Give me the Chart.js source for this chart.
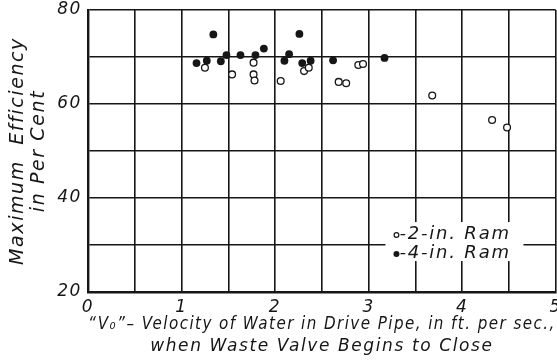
<!DOCTYPE html>
<html>
<head>
<meta charset="utf-8">
<title>Hydraulic ram efficiency</title>
<script src="https://cdn.jsdelivr.net/npm/chart.js@4.4.1/dist/chart.umd.min.js"></script>
<style>
  html, body { margin: 0; padding: 0; background: #fff; overflow: hidden; }
  #wrap { width: 561px; height: 361px; }
</style>
</head>
<body>
<div id="wrap"><canvas id="ramChart" width="561" height="361"></canvas></div>
<script>
// 2-in. ram: velocity v0 (ft per sec) and max efficiency (per cent)
var ram2Velocity   = [1.25, 1.54, 1.77, 1.77, 1.78, 2.06, 2.31, 2.36, 2.68, 2.76, 2.89, 2.94, 3.68, 4.32, 4.48];
var ram2Efficiency = [67.7, 66.3, 68.8, 66.3, 65.0, 64.9, 67.0, 67.7, 64.7, 64.4, 68.3, 68.5, 61.8, 56.6, 55.0];

// 4-in. ram
var ram4Velocity   = [1.16, 1.27, 1.34, 1.42, 1.48, 1.63, 1.79, 1.88, 2.10, 2.15, 2.26, 2.29, 2.38, 2.62, 3.17];
var ram4Efficiency = [68.7, 69.2, 74.8, 69.1, 70.4, 70.4, 70.4, 71.8, 69.2, 70.6, 74.9, 68.7, 69.2, 69.3, 69.8];

var seriesNames = ['-2-in. Ram', '-4-in. Ram'];
var xTickLabels = ['0', '1', '2', '3', '4', '5'];
var yTickLabels = ['20', '40', '60', '80'];

var INK = '#161616';
var FACE = 'DejaVu Sans, Verdana, sans-serif';

function toPoints(xs, ys){
    var i, pts = [];
    for(i = 0; i < xs.length; i++){
        pts.push({x: xs[i], y: ys[i]});
    }
    return pts;
}

/*Lettering is spaced a bit wider than the stock font*/
var spacedLettering = {
    id: 'spacedLettering',
    beforeDraw: function(chart){ chart.ctx.letterSpacing = '1.6px'; },
    afterDraw: function(chart){ chart.ctx.letterSpacing = '0px'; }
};

/*Key box sitting inside the grid, lower right*/
var insetKey = {
    id: 'insetKey',
    afterDraw: function(chart){
        var ctx = chart.ctx, area = chart.chartArea, i, ds, rowY,
            boxL = area.left + 0.636 * (area.right - area.left),
            boxT = area.top + 0.752 * (area.bottom - area.top),
            markX = boxL + 11;
        ctx.save();
        ctx.letterSpacing = '1.8px';
        ctx.fillStyle = '#fff';
        ctx.fillRect(boxL, boxT, 138, 39);
        ctx.font = 'italic 18px ' + FACE;
        ctx.textBaseline = 'middle';
        ctx.textAlign = 'left';
        for(i = 0; i < chart.data.datasets.length; i++){
            ds = chart.data.datasets[i];
            rowY = boxT + 12 + i * 19;
            ctx.beginPath();
            ctx.arc(markX, rowY + 1, i === 0 ? 2.4 : 3, 0, Math.PI * 2);
            if(i === 0){
                ctx.lineWidth = 1.2;
                ctx.strokeStyle = INK;
                ctx.stroke();
            } else {
                ctx.fillStyle = INK;
                ctx.fill();
            }
            ctx.fillStyle = INK;
            ctx.fillText(ds.label, markX + 3, rowY);
        }
        ctx.restore();
    }
};

new Chart(document.getElementById('ramChart'), {
    type: 'scatter',
    data: {
        datasets: [{
            label: seriesNames[0],
            data: toPoints(ram2Velocity, ram2Efficiency),
            pointStyle: 'circle',
            pointRadius: 3.4,
            pointBorderWidth: 1.3,
            pointBackgroundColor: '#fff',
            pointBorderColor: INK
        }, {
            label: seriesNames[1],
            data: toPoints(ram4Velocity, ram4Efficiency),
            pointStyle: 'circle',
            pointRadius: 3.9,
            pointBorderWidth: 0,
            pointBackgroundColor: INK,
            pointBorderColor: INK
        }]
    },
    options: {
        responsive: false,
        animation: false,
        layout: { padding: { top: 10, right: 2, bottom: 0, left: 0 } },
        plugins: {
            legend: { display: false },
            tooltip: { enabled: false }
        },
        scales: {
            x: {
                type: 'linear',
                min: 0,
                max: 5,
                afterFit: function(scale){
                    scale.height = 69;
                    scale.paddingLeft = 0;
                    scale.paddingRight = 0;
                },
                grid: { color: INK, lineWidth: 1.6, drawTicks: false },
                border: { color: INK, width: 2.4 },
                ticks: {
                    stepSize: 0.5,
                    padding: 5,
                    maxRotation: 0,
                    autoSkip: false,
                    color: INK,
                    font: { family: FACE, size: 17, style: 'italic' },
                    callback: function(value){
                        return Number.isInteger(value) ? xTickLabels[value] : '';
                    }
                },
                title: {
                    display: true,
                    text: ['\u201cV\u2080\u201d\u2013 Velocity of Water in Drive Pipe, in ft. per sec.,',
                           'when Waste Valve Begins to Close'],
                    color: INK,
                    font: { family: FACE, size: 17, style: 'italic', lineHeight: 1.3 },
                    padding: { top: 0, bottom: 3 }
                }
            },
            y: {
                type: 'linear',
                min: 20,
                max: 80,
                afterFit: function(scale){
                    scale.width = 88;
                    scale.paddingTop = 0;
                    scale.paddingBottom = 0;
                },
                grid: { color: INK, lineWidth: 1.6, drawTicks: false },
                border: { color: INK, width: 2.4 },
                ticks: {
                    stepSize: 10,
                    padding: 6,
                    color: INK,
                    font: { family: FACE, size: 17, style: 'italic', lineHeight: 1 },
                    callback: function(value){
                        return value % 20 === 0 ? yTickLabels[(value - 20) / 20] : '';
                    }
                },
                title: {
                    display: true,
                    text: ['Maximum  Efficiency', 'in Per Cent'],
                    color: INK,
                    font: { family: FACE, size: 19, style: 'italic', lineHeight: 1.1 },
                    padding: { top: 8, bottom: 0 }
                }
            }
        }
    },
    plugins: [spacedLettering, insetKey]
});
</script>
</body>
</html>
